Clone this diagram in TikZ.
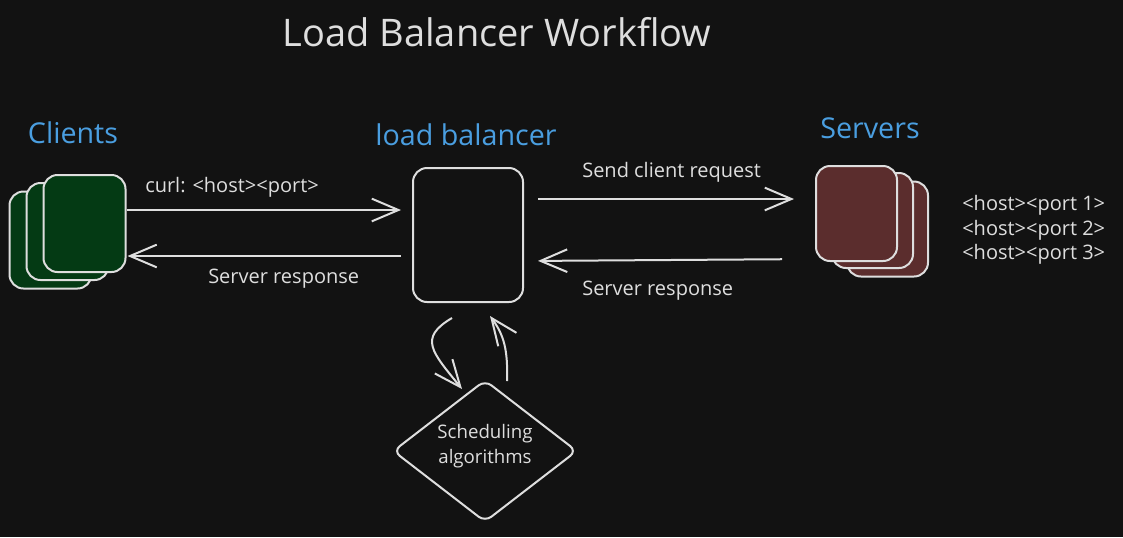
\documentclass[tikz,border=0pt]{standalone}
\usepackage{fontspec}
\setmainfont{Open Sans}
\usetikzlibrary{arrows.meta,shapes.geometric}
\newlength\pxu
\setlength\pxu{0.75pt}
\definecolor{bgc}{HTML}{121212}
\definecolor{fgc}{HTML}{DEDEDE}
\definecolor{bluec}{HTML}{4A9EE0}
\definecolor{greenc}{HTML}{043A14}
\definecolor{redc}{HTML}{5B2D2D}
\tikzset{
  box/.style={draw=fgc, line width=1.5pt, rounded corners=14\pxu, inner sep=0pt},
  cbox/.style={box, fill=greenc, minimum width=82\pxu, minimum height=97\pxu},
  sbox/.style={box, fill=redc, minimum width=81\pxu, minimum height=95\pxu},
  arr/.style={draw=fgc, line width=1.5pt, -{Straight Barb[length=20pt,width=17pt]}},
  lbl/.style={text=fgc, font=\fontsize{15}{18}\selectfont, inner sep=0pt},
  head/.style={text=bluec, font=\fontsize{21.5}{25}\selectfont, inner sep=0pt},
}
\begin{document}
\begin{tikzpicture}[x=1\pxu, y=-1\pxu]
\fill[bgc] (0,0) rectangle (1123,537);
\useasboundingbox (0,0) rectangle (1123,537);

\node[text=fgc, font=\fontsize{28.5}{33}\selectfont, inner sep=0pt] (title) at (497,32) {Load Balancer Workflow};

\node[head] (clients) at (73,133) {Clients};
\node[head] (lbt) at (466,135) {load balancer};
\node[head] (servers) at (870,128) {Servers};

% clients
\node[cbox] (c3) at (50.5,240) {};
\node[cbox] (c2) at (67.5,231.5) {};
\node[cbox] (c1) at (84.5,223.5) {};

% load balancer
\node[box, minimum width=110\pxu, minimum height=134\pxu] (lb) at (468,235) {};

% servers
\node[sbox] (s3) at (887.5,229) {};
\node[sbox] (s2) at (872.5,220.5) {};
\node[sbox] (s1) at (856.5,213.5) {};

% host ports
\node[lbl, align=left, anchor=west, font=\fontsize{15}{18.4}\selectfont] (hp) at (962,230) {<host><port 1>\\<host><port 2>\\<host><port 3>};

% arrows
\draw[arr, shorten >=11\pxu] (c1.east |- 0,210) -- (lb.west |- 0,210);
\draw[arr, shorten <=11\pxu, shorten >=1\pxu] (lb.west |- 0,256) -- (c1.east |- 0,256);
\draw[arr, shorten <=14\pxu, shorten >=21\pxu] (lb.east |- 0,199) -- (s1.west |- 0,199);
\draw[arr, shorten <=33\pxu, shorten >=14\pxu] (s1.west |- 0,259) -- (lb.east |- 0,261);

\node[lbl, anchor=west] (curl) at (145,187) {curl: <host><port>};
\node[lbl, anchor=west] (resp1) at (208,279) {Server response};
\node[lbl, anchor=west] (send) at (582,172) {Send client request};
\node[lbl, anchor=west] (resp2) at (582,291) {Server response};

% scheduling diamond
\node[diamond, draw=fgc, line width=1.5pt, rounded corners=8\pxu, inner sep=0pt,
      minimum width=184\pxu, minimum height=142\pxu] (sched) at (485,451) {};
\node[text=fgc, align=center, inner sep=0pt, font=\fontsize{14}{18.75}\selectfont] (schedt) at ([yshift=5\pxu]sched.center) {Scheduling\\algorithms};

\coordinate (a1s) at ([xshift=-16\pxu, yshift=-15\pxu]lb.south);
\coordinate (a1e) at ([xshift=-23\pxu, yshift=-10\pxu]sched.north);
\coordinate (a2s) at ([xshift=22\pxu, yshift=-2\pxu]sched.north);
\coordinate (a2e) at ([xshift=22\pxu, yshift=-13\pxu]lb.south);
\draw[arr] (a1s) .. controls (418,338) and (432,352) .. (a1e);
\draw[arr] (a2s) .. controls (508,350) and (504,335) .. (a2e);
\end{tikzpicture}
\end{document}
